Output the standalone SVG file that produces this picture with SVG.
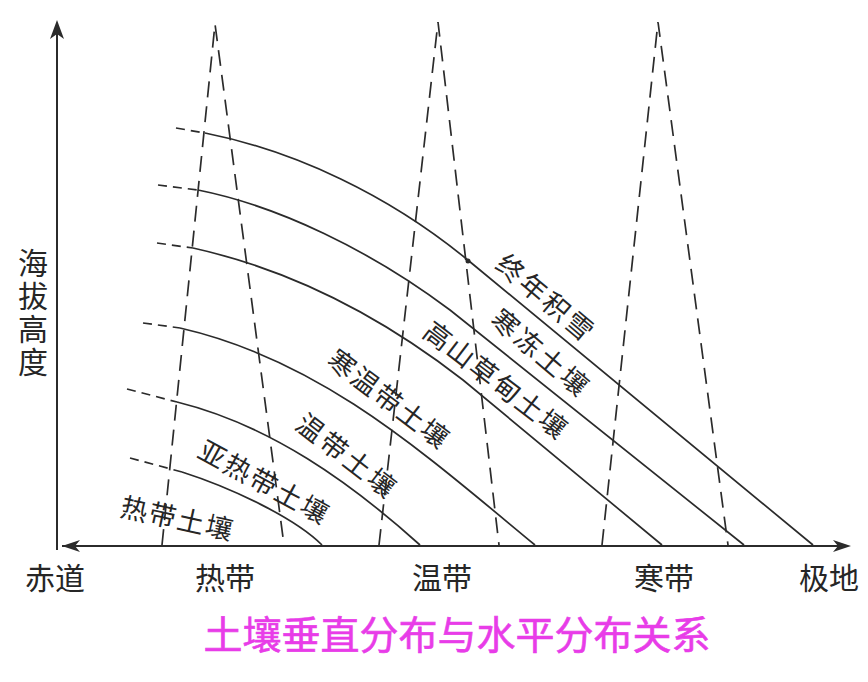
<svg xmlns="http://www.w3.org/2000/svg" width="868" height="682" viewBox="0 0 868 682">
<style>
.ax{stroke:#2b2b2b;stroke-width:2;fill:none}
.cv{stroke:#2b2b2b;stroke-width:1.7;fill:none}
.ext{stroke:#2b2b2b;stroke-width:1.7;fill:none;stroke-dasharray:9 6}
.tri{stroke:#2b2b2b;stroke-width:1.7;fill:none;stroke-dasharray:16 9}
.ah{fill:#2b2b2b}
.lb{font-family:"Noto Sans CJK SC","Noto Sans CJK JP",sans-serif;fill:#262626;font-size:27px}
.ax-lb{font-family:"Noto Sans CJK SC","Noto Sans CJK JP",sans-serif;fill:#262626;font-size:30px}
.title{font-family:"Noto Sans CJK SC","Noto Sans CJK JP",sans-serif;fill:#e83ce8;font-size:39px;stroke:#e83ce8;stroke-width:0.6}
</style>
<rect width="868" height="682" fill="#ffffff"/>
<g id="axes">
<line class="ax" x1="57" y1="28" x2="57" y2="550"/>
<line class="ax" x1="62" y1="546" x2="846" y2="546"/>
<path class="ah" d="M57,20 L64,39 L57,34 L50,39 Z"/>
<path class="ah" d="M62,546 L80,540 L75,546 L80,552 Z"/>
<path class="ah" d="M851,546 L833,540 L838,546 L833,552 Z"/>
</g>
<g id="connectors">
<path class="tri" d="M162,545 L215,24 L284,545"/>
<path class="tri" d="M379,545 L438,22 L499,545"/>
<path class="tri" d="M602,545 L658,22 L728,545"/>
<path class="ext" d="M176,128 L205,133"/>
<path class="ext" d="M158,185 L198,190"/>
<path class="ext" d="M157,243 L193,248"/>
<path class="ext" d="M143,323 L180,328"/>
<path class="ext" d="M127,389 L177,402"/>
<path class="ext" d="M130,458 L182,472"/>
<path class="cv" d="M205,133 C295,151 389,195 469,261 L813,545"/>
<path class="cv" d="M198,190 C278,206 370,250 450,310 L744,545"/>
<path class="cv" d="M193,248 C283,268 373,310 463,380 L662,545"/>
<path class="cv" d="M180,328 C320,360 420,450 535,545"/>
<path class="cv" d="M177,402 C270,425 350,482 420,545"/>
<path class="cv" d="M182,472 C232,488 295,518 322,545"/>
<circle cx="468" cy="261" r="2.5" fill="#2b2b2b"/>
</g>
<g id="label-snow"><text class="lb" text-anchor="middle" dominant-baseline="central" letter-spacing="3" transform="translate(547,297) rotate(40)">终年积雪</text></g>
<g id="label-frozen"><text class="lb" text-anchor="middle" dominant-baseline="central" letter-spacing="3" transform="translate(542,352) rotate(40)">寒冻土壤</text></g>
<g id="label-meadow"><text class="lb" text-anchor="middle" dominant-baseline="central" letter-spacing="2" transform="translate(497,379) rotate(37.5)">高山草甸土壤</text></g>
<g id="label-coldtemp"><text class="lb" text-anchor="middle" dominant-baseline="central" letter-spacing="2" transform="translate(390,398) rotate(37)">寒温带土壤</text></g>
<g id="label-temp"><text class="lb" text-anchor="middle" dominant-baseline="central" letter-spacing="3" transform="translate(348,455) rotate(37.5)">温带土壤</text></g>
<g id="label-subtrop"><text class="lb" text-anchor="middle" dominant-baseline="central" letter-spacing="2" transform="translate(265,481) rotate(28.5)">亚热带土壤</text></g>
<g id="label-trop"><text class="lb" text-anchor="middle" dominant-baseline="central" letter-spacing="2" transform="translate(178,517) rotate(12.5)">热带土壤</text></g>
<g id="label-yaxis">
<text class="ax-lb" x="33" y="248" font-size="28" letter-spacing="3" style="writing-mode:vertical-rl">海拔高度</text>
</g>
<g id="label-equator"><text class="ax-lb" x="55" y="589" text-anchor="middle">赤道</text></g>
<g id="label-tropic"><text class="ax-lb" x="225" y="589" text-anchor="middle">热带</text></g>
<g id="label-temperate"><text class="ax-lb" x="442" y="589" text-anchor="middle">温带</text></g>
<g id="label-cold"><text class="ax-lb" x="664" y="589" text-anchor="middle">寒带</text></g>
<g id="label-polar"><text class="ax-lb" x="829" y="589" text-anchor="middle">极地</text></g>
<g id="title"><text class="title" x="457" y="649" text-anchor="middle">土壤垂直分布与水平分布关系</text></g>
</svg>
